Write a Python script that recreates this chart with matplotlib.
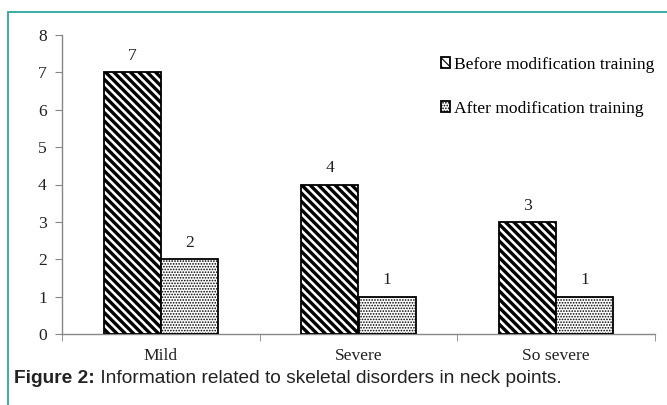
import numpy as np
import matplotlib
matplotlib.use('Agg')
import matplotlib.pyplot as plt
from matplotlib.patches import Rectangle

# data
categories = ['Mild', 'Severe', 'So severe']
before = [7, 4, 3]
after = [2, 1, 1]
labels = ['Before modification training', 'After modification training']
caption_bold = 'Figure 2:'
caption_text = ' Information related to skeletal disorders in neck points.'

serif = ['Liberation Serif', 'DejaVu Serif']
sans = ['Liberation Sans', 'DejaVu Sans']
fs = 12.6

W, H = 667, 405
fig = plt.figure(figsize=(W / 100, H / 100), dpi=100)
ax = fig.add_axes([62 / W, 1 - 334 / H, (655 - 62) / W, (334 - 35) / H])

x = np.arange(len(categories))
bw = 0.29
axis_col = '#868686'

plt.rcParams['hatch.linewidth'] = 2.4
b1 = ax.bar(x - bw / 2, before, bw, color='white', edgecolor='black',
            hatch='\\\\\\\\', linewidth=1.3, label=labels[0], zorder=3)
plt.rcParams['hatch.linewidth'] = 0.8
b2 = ax.bar(x + bw / 2, after, bw, color='white', edgecolor='black',
            hatch='......', linewidth=1.3, label=labels[1], zorder=3)

for xi, v in zip(x - bw / 2, before):
    ax.text(xi, v + 0.22, str(v), ha='center', va='bottom',
            fontsize=fs, family=serif, color='#222222')
for xi, v in zip(x + bw / 2, after):
    ax.text(xi, v + 0.22, str(v), ha='center', va='bottom',
            fontsize=fs, family=serif, color='#222222')

ax.set_xlim(-0.5, len(categories) - 0.5)
ax.set_ylim(0, 8)
ax.set_yticks(range(0, 9))
ax.set_xticks(x)
ax.set_xticklabels(categories, family=serif, fontsize=fs, color='#222222')
ax.set_xticks(np.arange(-0.5, len(categories)), minor=True)
ax.tick_params(axis='x', which='major', length=0, pad=10)
ax.tick_params(axis='x', which='minor', length=5, color=axis_col, direction='out')
ax.tick_params(axis='y', length=5, color=axis_col, direction='out', pad=6)
for t in ax.get_yticklabels():
    t.set_family(serif)
    t.set_fontsize(fs)
    t.set_color('#222222')
for s in ['top', 'right']:
    ax.spines[s].set_visible(False)
for s in ['left', 'bottom']:
    ax.spines[s].set_color(axis_col)
    ax.spines[s].set_linewidth(1.0)

ax.legend(loc='upper left', bbox_to_anchor=(432 / W, 1 - 48 / H),
          bbox_transform=fig.transFigure, frameon=False, borderpad=0,
          handlelength=0.55, handleheight=0.55, handletextpad=0.2,
          labelspacing=1.6, prop={'family': serif, 'size': fs})

# teal frame around the figure
fig.patches.append(Rectangle((8 / W, -0.1), 1.2, 1 - 12 / H + 0.1,
                             transform=fig.transFigure, fill=False,
                             edgecolor='#2aa79b', linewidth=1.3))

# caption
t1 = fig.text(14 / W, 1 - 383 / H, caption_bold, fontsize=13.8,
              fontweight='bold', family=sans, color='#222222')
fig.canvas.draw()
bb = t1.get_window_extent()
fig.text(bb.x1 / W, 1 - 383 / H, caption_text, fontsize=13.8,
         family=sans, color='#222222')

fig.savefig('out.png', dpi=100)
